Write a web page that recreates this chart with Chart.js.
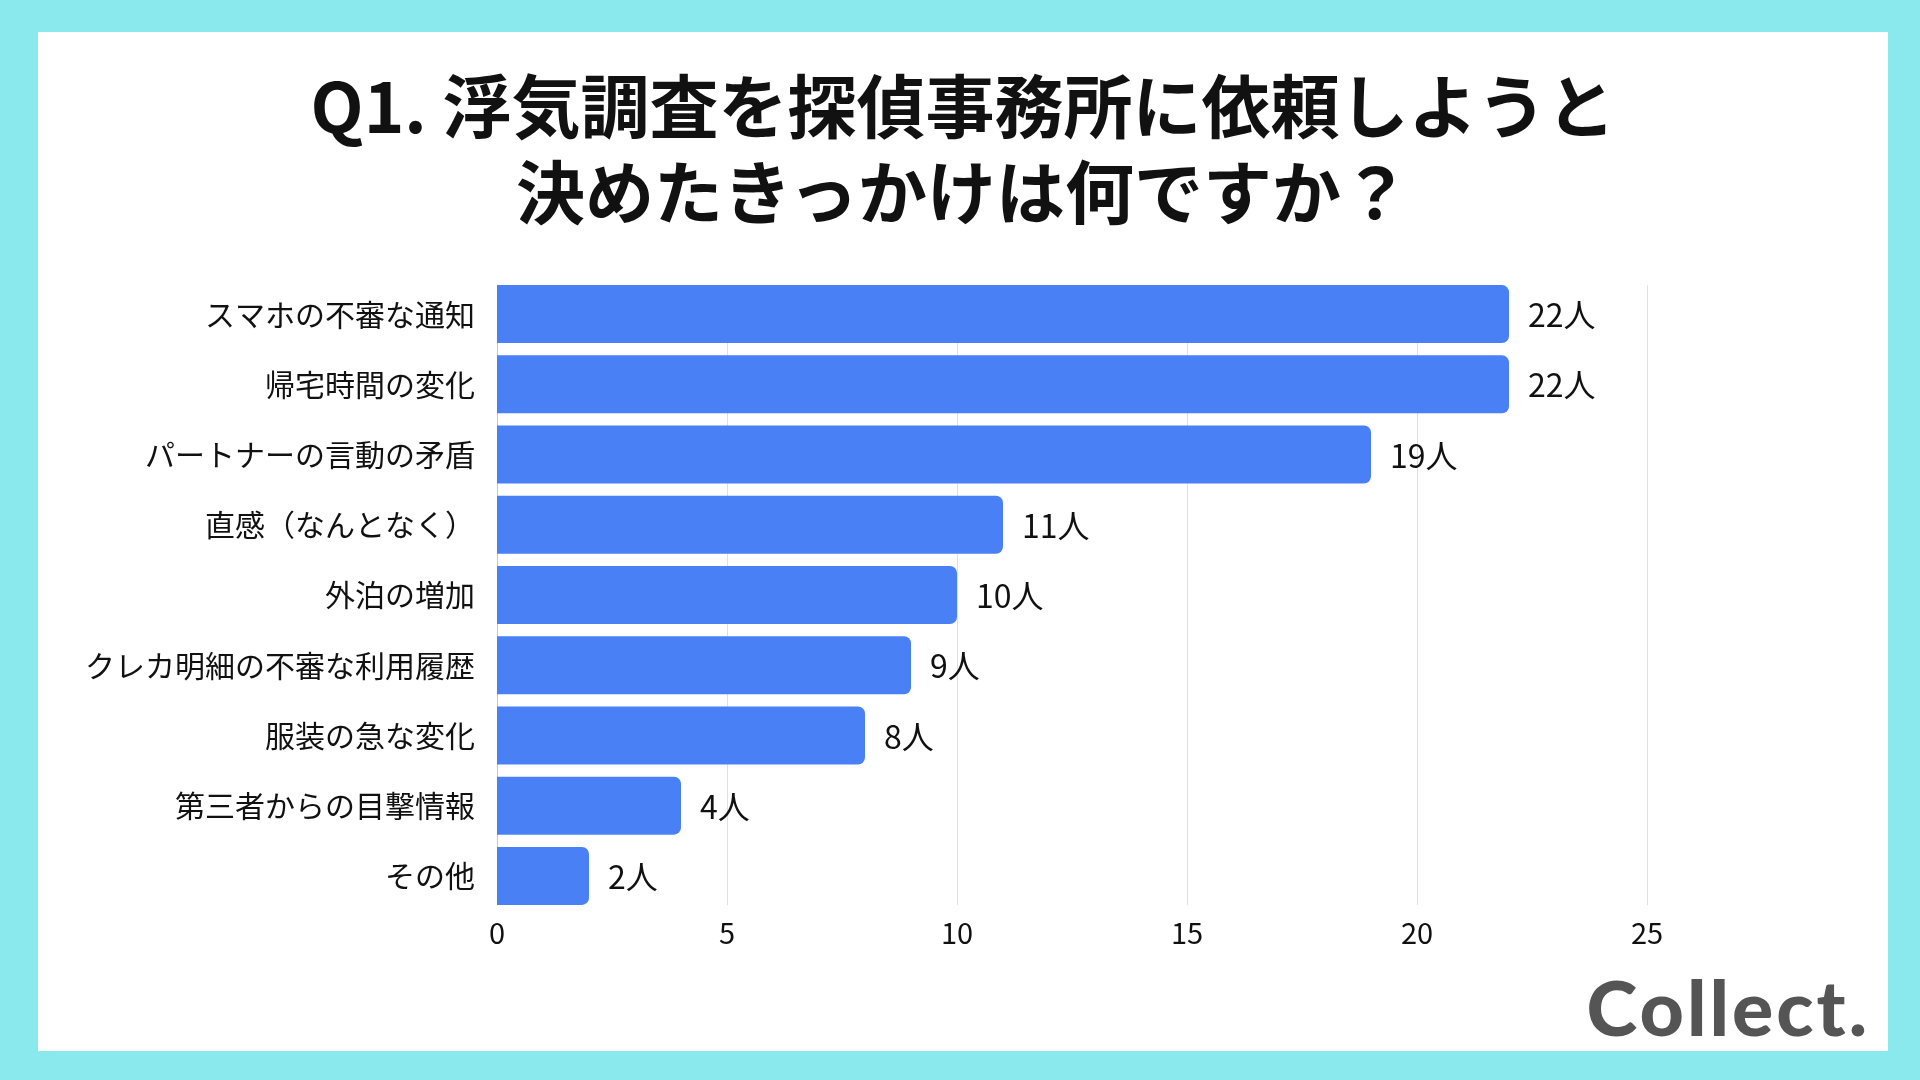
<!DOCTYPE html>
<html lang="ja">
<head>
<meta charset="utf-8">
<script src="https://cdn.jsdelivr.net/npm/chart.js@4.4.1/dist/chart.umd.min.js"></script>
<style>
  html, body { margin: 0; padding: 0; }
  body { width: 1920px; height: 1080px; background: #8AE9EC; position: relative; overflow: hidden; font-family: "Noto Sans CJK JP", "Noto Sans", sans-serif; }
  #panel { position: absolute; left: 38px; top: 32px; width: 1850px; height: 1019px; background: #ffffff; }
  #title { position: absolute; left: 38px; top: 60px; width: 1850px; text-align: center; font-family: "Noto Sans CJK JP", sans-serif; font-weight: 700; font-size: 69px; line-height: 86px; color: #111; }
  #logo { position: absolute; right: 50px; top: 960px; font-family: Lato, "Noto Sans", sans-serif; font-weight: 900; font-size: 77px; color: #555555; letter-spacing: 3px; }
  #wrap { position: absolute; left: 0; top: 0; width: 1920px; height: 1080px; }
</style>
</head>
<body>
<div id="panel"></div>
<div id="title">Q1. 浮気調査を探偵事務所に依頼しようと<br>決めたきっかけは何ですか？</div>
<div id="wrap"><canvas id="c"></canvas></div>
<div id="logo">Collect.</div>
<script>
const categories = [
  "スマホの不審な通知",
  "帰宅時間の変化",
  "パートナーの言動の矛盾",
  "直感（なんとなく）",
  "外泊の増加",
  "クレカ明細の不審な利用履歴",
  "服装の急な変化",
  "第三者からの目撃情報",
  "その他"
];
const counts = [22, 22, 19, 11, 10, 9, 8, 4, 2];
const valueSuffix = "人";
const tickValues = [0, 5, 10, 15, 20, 25];

const FONT = '"Noto Sans CJK JP", "Noto Sans", sans-serif';

const gridPlugin = {
  id: 'customGrid',
  beforeDatasetsDraw(chart) {
    const ctx = chart.ctx;
    const xs = chart.scales.x;
    const bars = chart.getDatasetMeta(0).data;
    const first = bars[0], last = bars[bars.length - 1];
    const top = first.y - first.height / 2;
    const bottom = last.y + last.height / 2;
    ctx.save();
    ctx.lineWidth = 1;
    tickValues.forEach(v => {
      const x = Math.round(xs.getPixelForValue(v)) + 0.5;
      ctx.strokeStyle = v === 0 ? '#c8c8c8' : '#e0e0e0';
      ctx.beginPath();
      ctx.moveTo(x, top);
      ctx.lineTo(x, bottom);
      ctx.stroke();
    });
    ctx.restore();
  }
};

const labelPlugin = {
  id: 'valueLabels',
  afterDatasetsDraw(chart) {
    const ctx = chart.ctx;
    const meta = chart.getDatasetMeta(0);
    const data = chart.data.datasets[0].data;
    ctx.save();
    ctx.font = '32px ' + FONT;
    ctx.fillStyle = '#111';
    ctx.textAlign = 'left';
    ctx.textBaseline = 'middle';
    meta.data.forEach((bar, i) => {
      ctx.fillText(data[i] + valueSuffix, bar.x + 19, bar.y + 1);
    });
    ctx.restore();
  }
};

new Chart(document.getElementById('c'), {
  type: 'bar',
  data: {
    labels: categories,
    datasets: [{
      data: counts,
      backgroundColor: '#4A80F5',
      borderRadius: 7,
      borderSkipped: 'start',
      barPercentage: 1,
      categoryPercentage: 0.826
    }]
  },
  options: {
    indexAxis: 'y',
    responsive: true,
    maintainAspectRatio: false,
    animation: false,
    layout: { padding: { left: 0, right: 273, top: 279, bottom: 0 } },
    plugins: { legend: { display: false }, tooltip: { enabled: false }, title: { display: false } },
    scales: {
      x: {
        min: 0, max: 25,
        ticks: { stepSize: 5, color: '#111', font: { family: FONT, size: 29 }, padding: 5 },
        grid: { display: false, drawTicks: false },
        border: { display: false },
        afterFit(scale) { scale.height = 169; }
      },
      y: {
        ticks: { color: '#111', font: { family: FONT, size: 30 }, padding: 22 },
        grid: { display: false, drawTicks: false },
        border: { display: false },
        afterFit(scale) { scale.width = 497; }
      }
    }
  },
  plugins: [gridPlugin, labelPlugin]
});
</script>
</body>
</html>
